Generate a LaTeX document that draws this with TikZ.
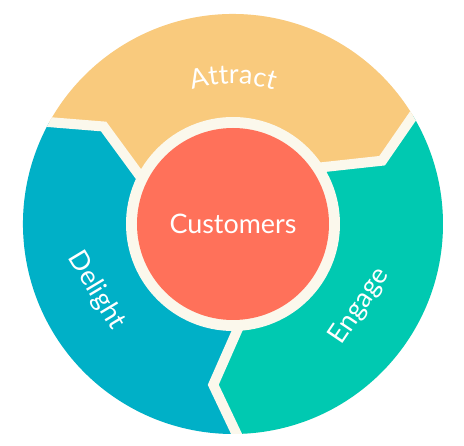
\documentclass[tikz,border=0pt]{standalone}
\usepackage{fontspec}
\setmainfont{Lato}
\usepackage{xcolor}
\usepackage{tikz}
\usetikzlibrary{decorations.text}
\definecolor{attractyellow}{HTML}{F9CA7D}
\definecolor{delightteal}{HTML}{00B0C7}
\definecolor{engagegreen}{HTML}{00C9B1}
\definecolor{customerred}{HTML}{FF715A}
\definecolor{gapcream}{HTML}{FBF8EC}
\newcommand{\wheelfont}{\fontsize{15.3}{17}\selectfont}
\tikzset{
  gapline/.style={draw=gapcream, line width=0.2cm, line join=miter},
  wheellabel/.style={text=white, font=\wheelfont, inner sep=0pt},
}

\begin{document}
\begin{tikzpicture}[x=0.02cm, y=0.02cm]
  \useasboundingbox (-233,-222) rectangle (231,224);

  \def\rOut{210}
  \def\rKink{162}
  \def\rIn{107}
  \def\rHub{96}
  \coordinate (hub) at (0,0);

  %% backing disc
  \fill[gapcream] (hub) circle[radius=\rOut];

  %% three segments, each from one boundary to the next
  \foreach \a/\col in {31/attractyellow, 151/delightteal, 271/engagegreen}
  {
    \pgfmathsetmacro{\b}{\a+120}
    \fill[\col] ({\a+2.5}:\rIn) -- ({\a-8}:\rKink) -- (\a:\rOut)
      arc[start angle=\a, end angle=\b, radius=\rOut]
      -- ({\b-8}:\rKink) -- ({\b+2.5}:\rIn) -- cycle;
  }

  %% cream gaps between segments
  \begin{scope}
    \clip (hub) circle[radius=\rOut];
    \foreach \a in {31, 151, 271}
      \draw[gapline] ({\a+2.5}:\rIn-5) -- ({\a-8}:\rKink) -- ({\a+1.7}:225);
  \end{scope}

  %% hub
  \fill[gapcream] (hub) circle[radius=\rIn];
  \fill[customerred] (hub) circle[radius=\rHub];

  %% labels
  \node[wheellabel] (customers) at (hub) {Customers};
  \path[decorate, decoration={text along path, text align=center,
      text={|\wheelfont\color{white}|Attract}}]
    (150:140) arc[start angle=150, end angle=30, radius=140];
  \node[wheellabel, rotate=-59] (delight) at (206:152) {Delight};
  \node[wheellabel, rotate=56] (engage) at (-33:151) {Engage};
\end{tikzpicture}
\end{document}
